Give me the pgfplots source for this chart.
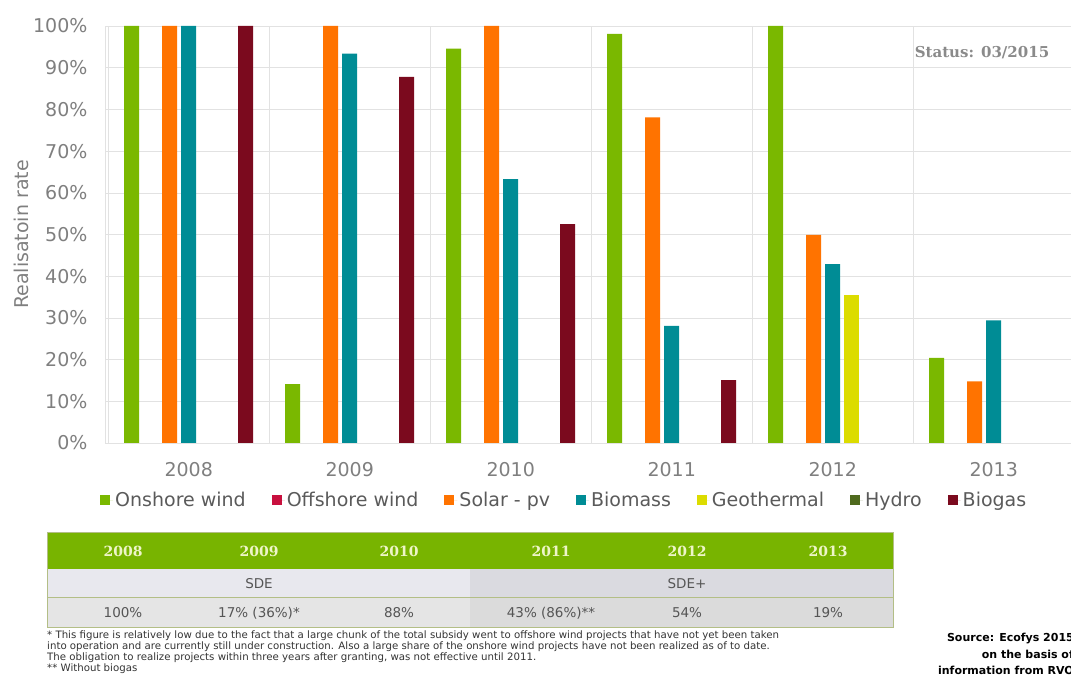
\documentclass[border=0pt]{standalone}
\usepackage{pgfplots}
\pgfplotsset{compat=1.18}
\usepackage{fontspec}
\setmainfont{DejaVu Sans}
\newfontfamily\serifb{DejaVu Serif}
\definecolor{onshore}{HTML}{7AB800}
\definecolor{offshore}{HTML}{C8103E}
\definecolor{solar}{HTML}{FF7300}
\definecolor{biomass}{HTML}{008C95}
\definecolor{geo}{HTML}{DCDC00}
\definecolor{hydro}{HTML}{4F6A1E}
\definecolor{biogas}{HTML}{7B0A1E}
\definecolor{gridgray}{HTML}{E2E2E2}
\definecolor{tickgray}{HTML}{7F7F7F}
\definecolor{legendgray}{HTML}{5A5A5A}
\definecolor{statusgray}{HTML}{8A8A8A}
\definecolor{hdrgreen}{HTML}{78B400}
\definecolor{hdrtext}{HTML}{EEF5C8}
\definecolor{row2l}{HTML}{E8E8EE}
\definecolor{row2r}{HTML}{DADAE0}
\definecolor{row3l}{HTML}{E5E5E5}
\definecolor{row3r}{HTML}{DBDBDB}
\definecolor{tborder}{HTML}{B3BE86}
\definecolor{tabtext}{HTML}{555555}
\pgfplotsset{sq legend/.style={legend image code/.code={\fill[##1] (0pt,-5pt) rectangle (10pt,5pt); \path (0pt,0pt) -- (13pt,0pt);}}}
\begin{document}
\begin{tikzpicture}[x=1pt,y=1pt]
\useasboundingbox (0,0) rectangle (1071,682);
\begin{axis}[
  at={(105pt,239pt)}, anchor=south west,
  scale only axis, width=966pt, height=417pt,
  xmin=-0.52, xmax=5.48, ymin=0, ymax=100,
  axis x line*=bottom, axis y line*=left,
  axis line style={-, draw=gridgray},
  ytick={0,10,...,100},
  yticklabels={0\%,10\%,20\%,30\%,40\%,50\%,60\%,70\%,80\%,90\%,100\%},
  xtick={0,1,2,3,4,5},
  xticklabels={2008,2009,2010,2011,2012,2013},
  minor xtick={-0.5,0.5,1.5,2.5,3.5,4.5},
  ymajorgrids, xminorgrids,
  major grid style={draw=gridgray}, minor grid style={draw=gridgray},
  major tick length=0pt, minor tick length=0pt,
  tick label style={font=\fontsize{19}{19}\selectfont, text=tickgray},
  yticklabel style={xshift=-14pt},
  xticklabel style={yshift=-16pt},
  ylabel={Realisatoin rate},
  ylabel style={at={(axis description cs:-0.087,0.5)}, anchor=center, font=\fontsize{19}{19}\selectfont, text=tickgray},
  legend style={at={(axis description cs:-0.0083,-0.137)}, anchor=west,
    draw=none, fill=none, legend columns=-1,
    font=\fontsize{19}{19}\selectfont, text=legendgray,
    /tikz/every even column/.append style={column sep=24pt},
    nodes={inner sep=2pt}},
]
\addplot[ybar, bar width=15pt, bar shift=-57pt, fill=onshore, draw=none, sq legend]
  coordinates {(0,100) (1,14.1) (2,94.6) (3,98.1) (4,100) (5,20.4)};
\addlegendentry{Onshore wind}
\addlegendimage{fill=offshore, draw=none, sq legend}
\addlegendentry{Offshore wind}
\addplot[ybar, bar width=15pt, bar shift=-19pt, fill=solar, draw=none, sq legend]
  coordinates {(0,100) (1,100) (2,100) (3,78.1) (4,49.9) (5,14.8)};
\addlegendentry{Solar - pv}
\addplot[ybar, bar width=15pt, bar shift=0pt, fill=biomass, draw=none, sq legend]
  coordinates {(0,100) (1,93.4) (2,63.3) (3,28.1) (4,42.9) (5,29.4)};
\addlegendentry{Biomass}
\addplot[ybar, bar width=15pt, bar shift=19pt, fill=geo, draw=none, sq legend]
  coordinates {(4,35.6)};
\addlegendentry{Geothermal}
\addlegendimage{fill=hydro, draw=none, sq legend}
\addlegendentry{Hydro}
\addplot[ybar, bar width=15pt, bar shift=57pt, fill=biogas, draw=none, sq legend]
  coordinates {(0,100) (1,87.8) (2,52.5) (3,15.1)};
\addlegendentry{Biogas}
\end{axis}
% status note
\node[font=\serifb\bfseries\fontsize{15}{15}\selectfont, text=statusgray] at (982,629) {Status: 03/2015};
% table
\fill[hdrgreen] (47,149) rectangle (893,113);
\fill[row2l] (47,113) rectangle (470,84);
\fill[row2r] (470,113) rectangle (893,84);
\fill[row3l] (47,84) rectangle (470,54);
\fill[row3r] (470,84) rectangle (893,54);
\draw[tborder, line width=1pt] (47,84) -- (893,84);
\draw[tborder, line width=1pt] (47,149) rectangle (893,54);
\foreach \xx/\tt in {123/2008,259/2009,399/2010,551/2011,687/2012,828/2013}
  \node[font=\serifb\bfseries\fontsize{14}{14}\selectfont, text=hdrtext] at (\xx,131) {\tt};
\node[font=\fontsize{13.5}{13.5}\selectfont, text=tabtext] at (259,98.5) {SDE};
\node[font=\fontsize{13.5}{13.5}\selectfont, text=tabtext] at (687,98.5) {SDE+};
\foreach \xx/\tt in {123/100\%,259/17\% (36\%)*,399/88\%,551/43\% (86\%)**,687/54\%,828/19\%}
  \node[font=\fontsize{13.5}{13.5}\selectfont, text=tabtext] at (\xx,69) {\tt};
% footnote
\node[anchor=north west, align=left, inner sep=0pt, font=\fontsize{10.2}{10.7}\selectfont, text=black!80] at (47,51)
 {* This figure is relatively low due to the fact that a large chunk of the total subsidy went to offshore wind projects that have not yet been taken\\
 into operation and are currently still under construction. Also a large share of the onshore wind projects have not been realized as of to date.\\
 The obligation to realize projects within three years after granting, was not effective until 2011.\\
 ** Without biogas};
% source
\node[anchor=north east, align=right, inner sep=0pt, font=\bfseries\fontsize{11}{16.5}\selectfont, text=black] at (1074,49)
 {Source: Ecofys 2015\\ on the basis of\\ information from RVO};
\end{tikzpicture}
\end{document}
